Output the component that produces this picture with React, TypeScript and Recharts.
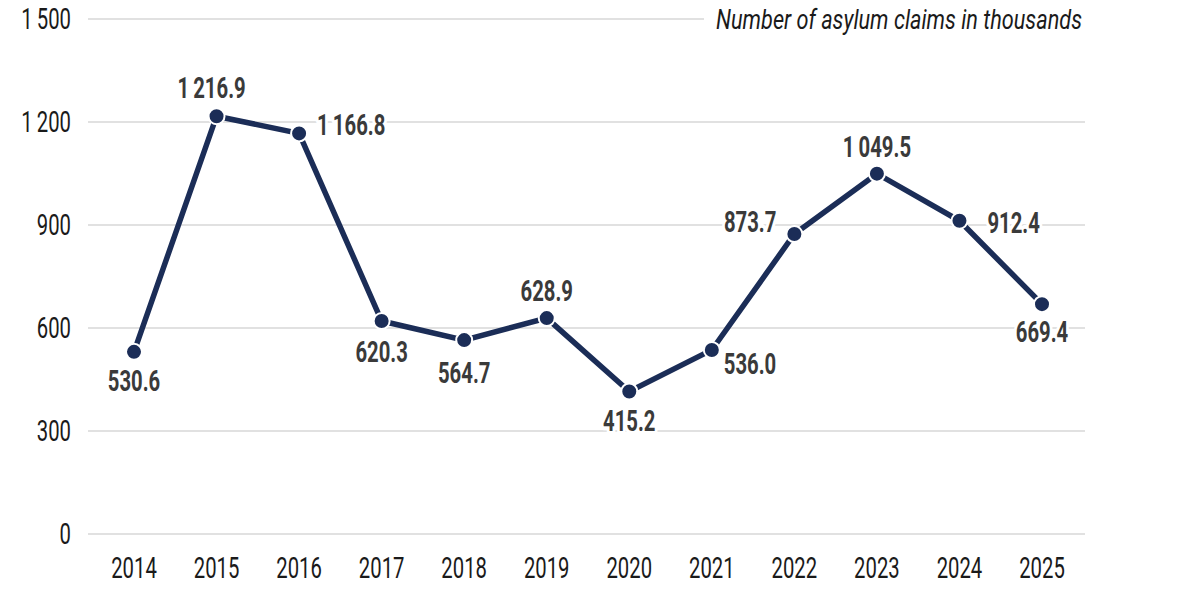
import { LineChart, Line, XAxis, YAxis, CartesianGrid, LabelList } from 'recharts'

const years = ['2014', '2015', '2016', '2017', '2018', '2019', '2020', '2021', '2022', '2023', '2024', '2025']
const claims = [530.6, 1216.9, 1166.8, 620.3, 564.7, 628.9, 415.2, 536.0, 873.7, 1049.5, 912.4, 669.4]
const yTicks = [0, 300, 600, 900, 1200, 1500]

const data = years.map((year, i) => ({ year, claims: claims[i] }))

// label placement per point: [dx, dy, anchor]
const placement: [number, number, 'start' | 'middle' | 'end'][] = [
  [0, 29, 'middle'],
  [-5, -28, 'middle'],
  [18, -8, 'start'],
  [0, 31, 'middle'],
  [0, 33, 'middle'],
  [0, -27, 'middle'],
  [0, 30, 'middle'],
  [12, 14, 'start'],
  [-18, -12, 'end'],
  [0, -27, 'middle'],
  [28, 2, 'start'],
  [0, 28, 'middle'],
]

const FONT = 'Roboto, "Liberation Sans", sans-serif'
const SQUEEZE = 0.7 // no condensed face installed, so narrow the glyphs by hand

// 1216.9 -> "1 216.9"
const fmt = (v: number, digits = 0) => {
  const s = v.toFixed(digits)
  const [int, dec] = s.split('.')
  const grouped = int.replace(/\B(?=(\d{3})+(?!\d))/g, '\u2009')
  return dec ? `${grouped}.${dec}` : grouped
}

const ValueLabel = (props: any) => {
  const { x, y, value, index } = props
  const [dx, dy, anchor] = placement[index]
  return (
    <text
      transform={`translate(${x + dx},${y + dy}) scale(${SQUEEZE},1)`}
      textAnchor={anchor}
      dominantBaseline="central"
      fontFamily={FONT}
      fontWeight={700}
      fontSize={29}
      fill="#3a3a3a"
      stroke="#ffffff"
      strokeWidth={8}
      paintOrder="stroke"
      strokeLinejoin="round"
    >
      {fmt(value, 1)}
    </text>
  )
}

const YTick = (props: any) => {
  const { x, y, payload } = props
  return (
    <text
      transform={`translate(${x},${y}) scale(${SQUEEZE},1)`}
      textAnchor="end"
      dominantBaseline="central"
      fontFamily={FONT}
      fontSize={29}
      fill="#1a1a1a"
    >
      {fmt(payload.value)}
    </text>
  )
}

const XTick = (props: any) => {
  const { x, y, payload } = props
  return (
    <text
      transform={`translate(${x},${y}) scale(${SQUEEZE},1)`}
      textAnchor="middle"
      dominantBaseline="central"
      fontFamily={FONT}
      fontSize={29}
      fill="#1a1a1a"
    >
      {payload.value}
    </text>
  )
}

export default function App() {
  return (
    <div style={{ position: 'absolute', left: 0, top: 0, width: 1200, height: 600, background: '#fff' }}>
      <LineChart
        width={1200}
        height={600}
        data={data}
        margin={{ top: 19, right: 115, left: 0, bottom: 0 }}
      >
        <CartesianGrid vertical={false} stroke="#c4c4c4" strokeWidth={1.2} />
        <XAxis
          dataKey="year"
          axisLine={false}
          tickLine={false}
          tickSize={0}
          height={66}
          padding={{ left: 46, right: 43 }}
          tickMargin={34}
          tick={<XTick />}
        />
        <YAxis
          domain={[0, 1500]}
          ticks={yTicks}
          width={88}
          axisLine={false}
          tickLine={false}
          tickSize={0}
          tickMargin={17}
          tick={<YTick />}
        />
        <Line
          dataKey="claims"
          type="linear"
          stroke="#1b2d57"
          strokeWidth={5.5}
          dot={{ r: 8, fill: '#1b2d57', stroke: '#ffffff', strokeWidth: 2 }}
          isAnimationActive={false}
        >
          <LabelList dataKey="claims" content={<ValueLabel />} />
        </Line>
      </LineChart>
      <svg width={1200} height={40} style={{ position: 'absolute', left: 0, top: 0 }}>
        <rect x={704} y={4} width={390} height={32} fill="#ffffff" />
        <text
          x={716}
          y={19}
          textLength={366}
          lengthAdjust="spacingAndGlyphs"
          dominantBaseline="central"
          fontFamily={FONT}
          fontStyle="italic"
          fontSize={28}
          fill="#1a1a1a"
        >
          Number of asylum claims in thousands
        </text>
      </svg>
    </div>
  )
}
